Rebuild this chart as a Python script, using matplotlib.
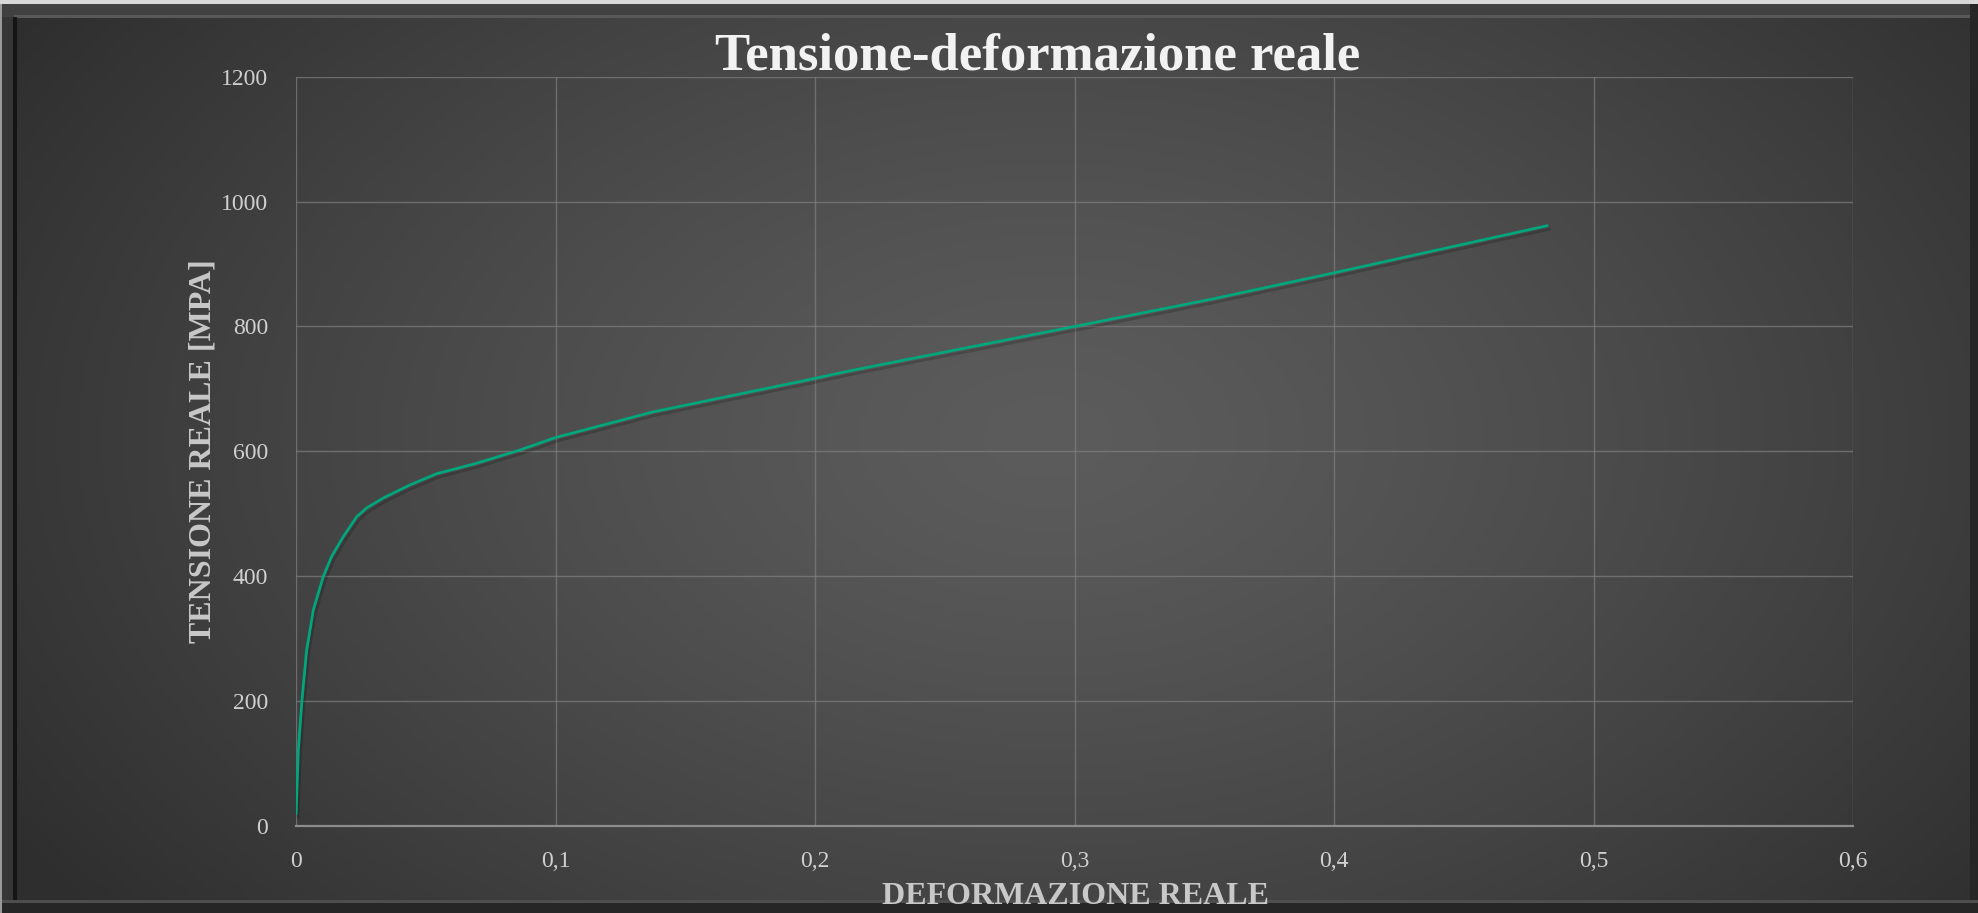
import numpy as np
import matplotlib
matplotlib.use("Agg")
import matplotlib.pyplot as plt
import matplotlib.patheffects as pe
from matplotlib.patches import Rectangle

# ---- data ----
strain = [0.0, 0.0009, 0.0022, 0.0041, 0.0067, 0.0105, 0.0137, 0.0182, 0.0234,
          0.0272, 0.0336, 0.0439, 0.0542, 0.0690, 0.0863, 0.1000, 0.1375,
          0.1968, 0.2135, 0.3000, 0.3530, 0.3676, 0.4000, 0.4826]
stress = [17, 121, 196, 281, 346, 399, 431, 463, 495,
          509, 525, 546, 564, 580, 602, 622, 663,
          714, 729, 800, 844, 857, 886, 962]
x_ticks = [0, 0.1, 0.2, 0.3, 0.4, 0.5, 0.6]
x_tick_labels = ["0", "0,1", "0,2", "0,3", "0,4", "0,5", "0,6"]
y_ticks = [0, 200, 400, 600, 800, 1000, 1200]
y_tick_labels = ["0", "200", "400", "600", "800", "1000", "1200"]
title = "Tensione-deformazione reale"
x_label = "DEFORMAZIONE REALE"
y_label = "TENSIONE REALE [MPA]"

W, H = 1978, 913
fig = plt.figure(figsize=(W / 100, H / 100), dpi=100)
fig.patch.set_facecolor("#333333")

# ---- radial gradient background ----
bg = fig.add_axes([0, 0, 1, 1], zorder=0)
bg.set_axis_off()
gx, gy = np.meshgrid(np.linspace(0, 1, 500), np.linspace(0, 1, 250))
r = np.sqrt(((gx - 0.53) / 0.62) ** 2 + ((gy - 0.52) / 0.85) ** 2)
r = np.clip(r, 0, 1)
c_in, c_out = 0x5c / 255, 0x2e / 255
val = c_in + (c_out - c_in) * r ** 1.3
img = np.dstack([val, val, val])
bg.imshow(img, extent=[0, 1, 0, 1], aspect="auto", origin="lower")
bg.set_xlim(0, 1)
bg.set_ylim(0, 1)

# ---- frame (bevel), pixel coordinates from top-left ----
def band(x, y, w, h, color):
    fig.patches.append(Rectangle((x / W, 1 - (y + h) / H), w / W, h / H,
                                 transform=fig.transFigure, facecolor=color,
                                 edgecolor="none", zorder=5))

band(0, 4, 2, H - 4, "#9a9a9a")        # left light edge
band(2, 4, W - 2, 13, "#404040")       # top bevel band
band(14, 15, W - 14, 3, "#585858")     # top bevel highlight
band(2, 17, 11, H - 17, "#363636")     # left band
band(13, 17, 4, H - 17, "#141414")     # left dark line
band(W - 8, 4, 8, H - 4, "#262626")    # right dark edge
band(2, 900, W - 2, 3, "#4e4e4e")      # bottom highlight
band(2, 903, W - 2, H - 903, "#262626")  # bottom dark edge
band(0, 0, W, 4, "#d8d8d8")            # top light strip

# ---- main axes ----
ax = fig.add_axes([296 / W, 1 - 825.5 / H, (1853 - 296) / W, (825.5 - 77) / H], zorder=2)
ax.set_facecolor("none")
ax.set_xlim(0, 0.6)
ax.set_ylim(0, 1200)
ax.set_xticks(x_ticks)
ax.set_xticklabels(x_tick_labels)
ax.set_yticks(y_ticks)
ax.set_yticklabels(y_tick_labels)
ax.grid(True, color="#808080", linewidth=1.0, alpha=0.7)
ax.set_axisbelow(True)
for s in ["top", "right", "left"]:
    ax.spines[s].set_visible(False)
ax.spines["bottom"].set_color("#8c8c8c")
ax.spines["bottom"].set_linewidth(1.6)
ax.tick_params(length=0, labelsize=17, labelcolor="#d0d0d0")
ax.tick_params(axis="x", pad=18)
ax.tick_params(axis="y", pad=20)
for lab in ax.get_xticklabels() + ax.get_yticklabels():
    lab.set_fontfamily("Liberation Serif")

ax.plot(strain, stress, color="#00a67c", linewidth=2.0, solid_capstyle="butt",
        path_effects=[pe.SimpleLineShadow(offset=(1.5, -2.5), shadow_color="black", alpha=0.18),
                      pe.Normal()], zorder=3)

# ---- texts ----
fig.text(1038 / W, 1 - 69 / H, title, ha="center", va="baseline",
         fontsize=38, fontweight="bold", color="#f2f2f2",
         fontfamily="Liberation Serif", zorder=4)
fig.text(203 / W, 1 - 451 / H, y_label, ha="center", va="center", rotation=90,
         fontsize=23, fontweight="bold", color="#c8c8c8",
         fontfamily="Liberation Serif", zorder=4)
fig.text(1075 / W, 1 - 904 / H, x_label, ha="center", va="baseline",
         fontsize=23, fontweight="bold", color="#c8c8c8",
         fontfamily="Liberation Serif", zorder=6)

fig.savefig("out.png", dpi=100, facecolor=fig.get_facecolor())
